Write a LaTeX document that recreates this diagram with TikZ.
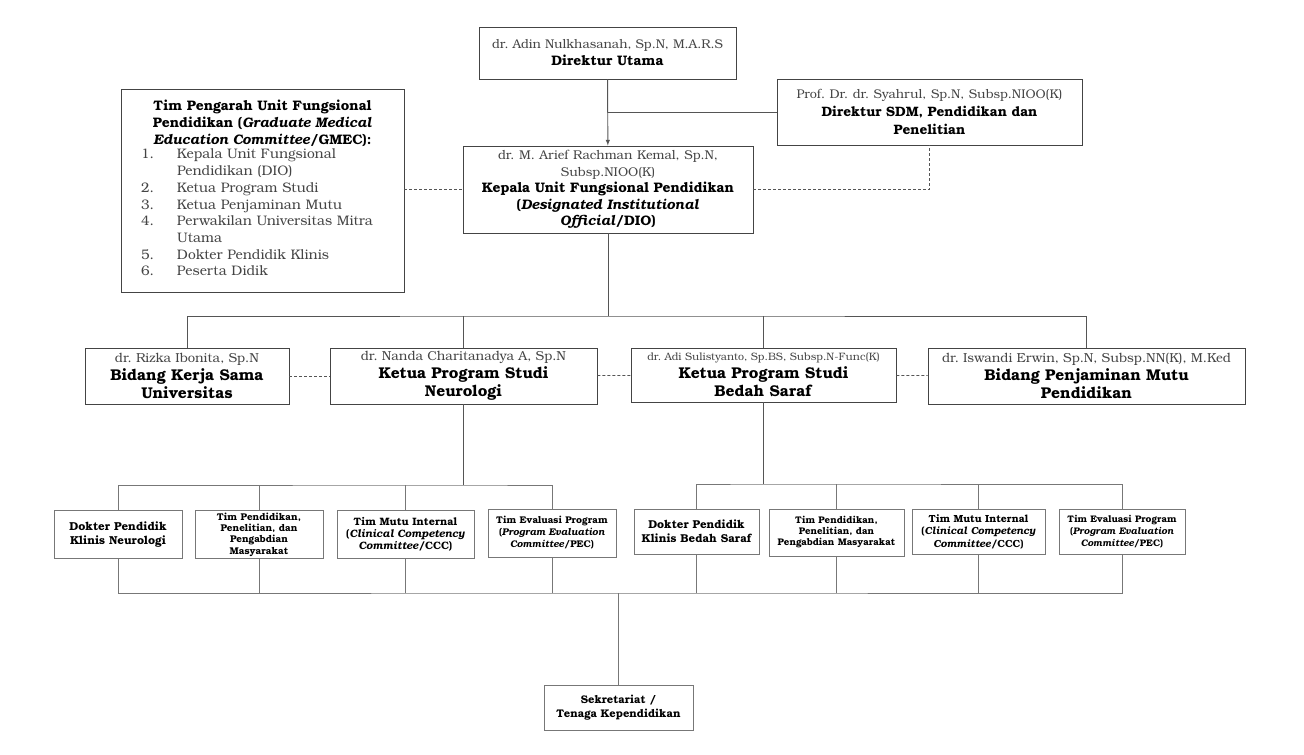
\documentclass[tikz,border=0pt]{standalone}
\usepackage{fontspec}
\setmainfont{TeX Gyre Bonum}
\frenchspacing
\definecolor{namegray}{HTML}{454545}
\definecolor{linegray}{HTML}{555555}
\definecolor{boxgray}{HTML}{444444}
\definecolor{subgray}{HTML}{777777}
\newcommand\fsz[2]{\fontsize{#1}{#2}\selectfont}
\newcommand\nm[1]{{\color{namegray}#1}}
\begin{document}
\begin{tikzpicture}[x=1pt,y=-1pt,
    box/.style={draw=boxgray, line width=0.95pt, rectangle, inner sep=0pt, align=center},
    subbox/.style={draw=subgray, line width=0.95pt, rectangle, inner sep=0pt, align=center},
    link/.style={draw=linegray, line width=0.95pt},
    sublink/.style={draw=subgray, line width=0.95pt},
    dots/.style={draw=linegray, line width=0.8pt, dash pattern=on 3pt off 2pt}]
  \useasboundingbox[fill=white] (0,0) rectangle (1304,755);
  % pimpinan
  \node (dirut) at (607.5,53) [box, minimum width=257, minimum height=52, font=\fsz{13.8}{17}]
    {\nm{\fsz{12.6}{17}dr. Adin Nulkhasanah, Sp.N, M.A.R.S}\\ \textbf{Direktur Utama}};
  \node (sdm) at (929.5,112) [box, minimum width=305, minimum height=66, text width=298, font=\fsz{13.6}{18}]
    {\nm{\fsz{12.6}{18}Prof. Dr. dr. Syahrul, Sp.N, Subsp.NIOO(K)}\\ \textbf{Direktur SDM, Pendidikan dan}\\ \textbf{Penelitian}};
  \node (dio) at (608,189.5) [box, minimum width=290, minimum height=87, text width=286, font=\fsz{13.8}{16.6}]
    {\nm{\fsz{12.7}{16.6}dr. M. Arief Rachman Kemal, Sp.N,}\\ \nm{\fsz{12.7}{16.6}Subsp.NIOO(K)}\\
     \textbf{Kepala Unit Fungsional Pendidikan}\\ \textbf{(\textit{Designated Institutional}}\\
     \textbf{\textit{Official}/DIO)}};
  \node (gmec) at (262.5,190.5) [box, minimum width=283, minimum height=203, text width=243, align=left, font=\fsz{13.8}{16.7}]
    {{\centering\bfseries Tim Pengarah Unit Fungsional\\ Pendidikan (\textit{Graduate Medical}\\
     \textit{Education Committee}/GMEC):\par}
     {\color{namegray}\begin{tabular}{@{}p{36pt}@{}l@{}}
       1. & Kepala Unit Fungsional\\ & Pendidikan (DIO)\\ 2. & Ketua Program Studi\\
       3. & Ketua Penjaminan Mutu\\ 4. & Perwakilan Universitas Mitra\\ & Utama\\
       5. & Dokter Pendidik Klinis\\ 6. & Peserta Didik
     \end{tabular}}};
  % bidang
  \node (kerjasama) at (187,376) [box, minimum width=204, minimum height=56, font=\fsz{15.6}{18}]
    {\nm{\fsz{13}{18}dr. Rizka Ibonita, Sp.N}\\ \textbf{Bidang Kerja Sama}\\ \textbf{Universitas}};
  \node (neuro) at (463.5,376) [box, minimum width=267, minimum height=56, font=\fsz{15.6}{18}]
    {\nm{\fsz{13}{18}dr. Nanda Charitanadya A, Sp.N}\\ \textbf{Ketua Program Studi}\\ \textbf{Neurologi}};
  \node (bedah) at (763.5,375) [box, minimum width=265, minimum height=54, font=\fsz{15.6}{18}]
    {\nm{\fsz{10.7}{18}dr. Adi Sulistyanto, Sp.BS, Subsp.N-Func(K)}\\ \textbf{Ketua Program Studi}\\ \textbf{Bedah Saraf}};
  \node (mutu) at (1086.5,376) [box, minimum width=317, minimum height=56, font=\fsz{15.6}{18}]
    {\nm{\fsz{13}{18}dr. Iswandi Erwin, Sp.N, Subsp.NN(K), M.Ked}\\ \textbf{Bidang Penjaminan Mutu}\\ \textbf{Pendidikan}};
  % tim neurologi
  \node (dpkn) at (118,534.5) [subbox, minimum width=128, minimum height=48, font=\bfseries\fsz{11.5}{14}]
    {Dokter Pendidik\\ Klinis Neurologi};
  \node (tppn) at (259,534.5) [subbox, minimum width=128, minimum height=48, font=\bfseries\fsz{9.8}{11.4}]
    {Tim Pendidikan,\\ Penelitian, dan\\ Pengabdian\\ Masyarakat};
  \node (tmin) at (405.5,534.5) [subbox, minimum width=137, minimum height=48, font=\bfseries\fsz{10.7}{12.2}]
    {Tim Mutu Internal\\ (\textit{Clinical Competency}\\ \textit{Committee}/CCC)};
  \node (tepn) at (552,533) [subbox, minimum width=128, minimum height=48, font=\bfseries\fsz{9.7}{12}]
    {Tim Evaluasi Program\\ (\textit{Program Evaluation}\\ \textit{Committee}/PEC)};
  % tim bedah saraf
  \node (dpkb) at (696.5,531.5) [subbox, minimum width=125, minimum height=45, font=\bfseries\fsz{11.4}{14}]
    {Dokter Pendidik\\ Klinis Bedah Saraf};
  \node (tppb) at (836.5,532.5) [subbox, minimum width=135, minimum height=47, font=\bfseries\fsz{9.6}{11}]
    {Tim Pendidikan,\\ Penelitian, dan\\ Pengabdian Masyarakat};
  \node (tmib) at (978.5,531.5) [subbox, minimum width=133, minimum height=45, font=\bfseries\fsz{10.3}{12.5}]
    {Tim Mutu Internal\\ (\textit{Clinical Competency}\\ \textit{Committee}/CCC)};
  \node (tepb) at (1122,531.5) [subbox, minimum width=126, minimum height=45, font=\bfseries\fsz{9.5}{12.2}]
    {Tim Evaluasi Program\\ (\textit{Program Evaluation}\\ \textit{Committee}/PEC)};
  \node (sekr) at (618.5,707.5) [subbox, minimum width=149, minimum height=45, font=\bfseries\fsz{11.1}{14}]
    {Sekretariat /\\ Tenaga Kependidikan};
  % garis
  \coordinate (j1) at (dirut.south |- sdm.west);
  \coordinate (bus) at (608,316);
  \coordinate (nbus) at (463.5,485);
  \coordinate (bbus) at (763.5,484);
  \coordinate (sbus) at (618.5,593);
  \draw[link,-latex] (dirut) -- (dio);
  \draw[link] (j1) -- (sdm.west);
  \draw[dots] (gmec.east |- dio.west) -- (dio.west);
  \draw[dots] (dio) -| (sdm);
  \draw[link] (dio) -- (bus); \draw[link] (kerjasama) |- (bus) -| (mutu);
  \draw[link] (bus -| neuro) -- (neuro); \draw[link] (bus -| bedah) -- (bedah);
  \draw[dots] (kerjasama) -- (neuro); \draw[dots] (neuro) -- (bedah); \draw[dots] (bedah) -- (mutu);
  \draw[link] (neuro) -- (nbus); \draw[sublink] (dpkn) |- (nbus) -| (tepn);
  \draw[sublink] (nbus -| tppn) -- (tppn); \draw[sublink] (nbus -| tmin) -- (tmin);
  \draw[link] (bedah) -- (bbus); \draw[sublink] (dpkb) |- (bbus) -| (tepb);
  \draw[sublink] (bbus -| tppb) -- (tppb); \draw[sublink] (bbus -| tmib) -- (tmib);
  \draw[sublink] (dpkn) |- (sbus) -| (tepb);
  \draw[sublink] (tppn) -- (tppn |- sbus); \draw[sublink] (tmin) -- (tmin |- sbus);
  \draw[sublink] (tepn) -- (tepn |- sbus); \draw[sublink] (dpkb) -- (dpkb |- sbus);
  \draw[sublink] (tppb) -- (tppb |- sbus); \draw[sublink] (tmib) -- (tmib |- sbus);
  \draw[sublink] (sbus) -- (sekr);
\end{tikzpicture}
\end{document}
